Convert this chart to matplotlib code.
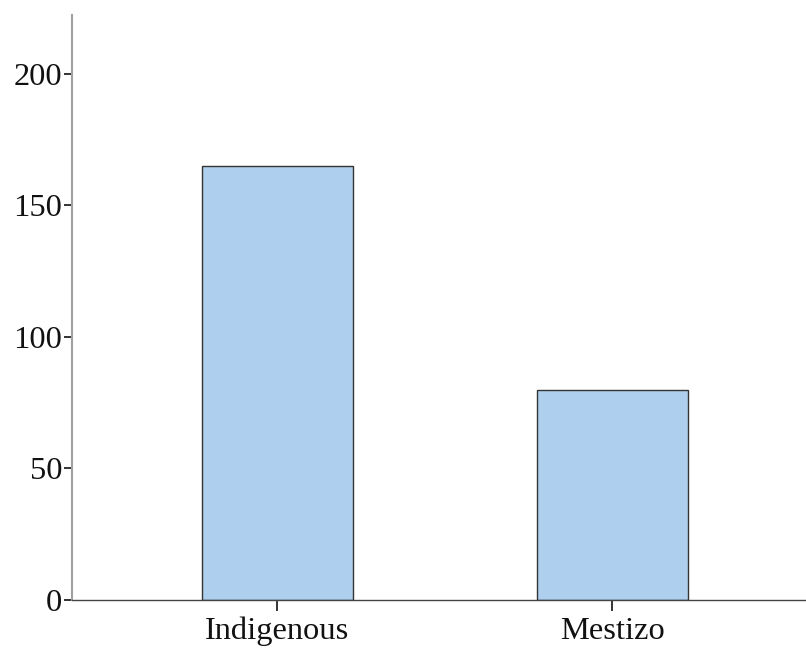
import matplotlib
matplotlib.use('Agg')
import matplotlib.pyplot as plt

plt.rcParams['font.family'] = ['Liberation Serif', 'DejaVu Serif']

# data
categories = ['Indigenous', 'Mestizo']
counts = [165, 80]
y_ticks = [0, 50, 100, 150, 200]

fig = plt.figure(figsize=(8.06, 6.5), dpi=100)
ax = fig.add_axes([0.0893, 0.0769, 0.9107, 0.9])

x = list(range(len(categories)))
ax.bar(x, counts, width=0.45, color='#AECFEE', edgecolor='#333333', linewidth=1.0, zorder=2)

ax.set_xlim(-0.613, 1.578)
ax.set_ylim(0, 222.4)
ax.set_xticks(x)
ax.set_xticklabels(categories)
ax.set_yticks(y_ticks)

ax.spines['top'].set_visible(False)
ax.spines['right'].set_visible(False)
ax.spines['left'].set_color('#A0A0A0')
ax.spines['left'].set_linewidth(1.5)
ax.spines['bottom'].set_color('#444444')
ax.spines['bottom'].set_linewidth(1.0)

ax.tick_params(axis='both', labelsize=23.4, colors='#111111', width=1.2)
ax.tick_params(axis='y', length=6, pad=1)
ax.tick_params(axis='x', length=8, pad=4)

plt.savefig('out.png', dpi=100)
